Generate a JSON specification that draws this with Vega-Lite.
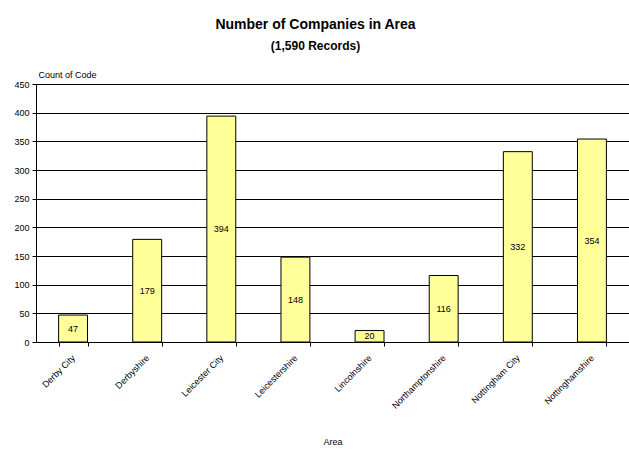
{
  "$schema": "https://vega.github.io/schema/vega-lite/v6.json",
  "autosize": "none",
  "width": 593,
  "height": 258,
  "padding": {"left": 36, "top": 84, "right": 0, "bottom": 112},
  "background": "white",
  "title": {
    "text": "Number of Companies in Area",
    "subtitle": "(1,590 Records)",
    "anchor": "middle",
    "frame": "group",
    "dx": -17,
    "offset": 18,
    "font": "Liberation Sans",
    "fontSize": 14,
    "fontWeight": "bold",
    "color": "black",
    "subtitleFont": "Liberation Sans",
    "subtitleFontSize": 12,
    "subtitleFontWeight": "bold",
    "subtitleColor": "black",
    "subtitlePadding": 9
  },
  "config": {
    "view": {"stroke": null},
    "axis": {
      "labelFont": "Liberation Sans",
      "labelFontSize": 9,
      "labelColor": "black",
      "titleFont": "Liberation Sans",
      "titleFontSize": 9,
      "titleFontWeight": "normal",
      "titleColor": "black",
      "domainColor": "black",
      "tickColor": "black",
      "gridColor": "black",
      "gridOpacity": 1
    }
  },
  "data": {
    "values": [
      {"Area": "Derby City", "count": 47},
      {"Area": "Derbyshire", "count": 179},
      {"Area": "Leicester City", "count": 394},
      {"Area": "Leicestershire", "count": 148},
      {"Area": "Lincolnshire", "count": 20},
      {"Area": "Northamptonshire", "count": 116},
      {"Area": "Nottingham City", "count": 332},
      {"Area": "Nottinghamshire", "count": 354}
    ]
  },
  "encoding": {
    "x": {
      "field": "Area",
      "type": "nominal",
      "sort": null,
      "scale": {"paddingInner": 0.61, "paddingOuter": 0.305},
      "axis": {
        "title": "Area",
        "labelAngle": -45,
        "labelBaseline": "middle",
        "labelPadding": 10,
        "tickBand": "extent",
        "tickSize": 4,
        "titleY": 99,
        "titleBaseline": "middle"
      }
    }
  },
  "layer": [
    {
      "mark": {"type": "bar", "color": "#FFFF99", "stroke": "black", "strokeWidth": 1},
      "encoding": {
        "y": {
          "field": "count",
          "type": "quantitative",
          "scale": {"domain": [0, 450], "nice": false},
          "axis": {
            "title": "Count of Code",
            "values": [0, 50, 100, 150, 200, 250, 300, 350, 400, 450],
            "grid": true,
            "tickSize": 4,
            "labelPadding": 3,
            "titleAngle": 0,
            "titleAlign": "left",
            "titleBaseline": "bottom",
            "titleX": 2,
            "titleY": -5
          }
        }
      }
    },
    {
      "mark": {"type": "text", "font": "Liberation Sans", "fontSize": 9, "color": "black", "baseline": "middle"},
      "encoding": {
        "y": {
          "field": "count",
          "type": "quantitative",
          "scale": {"domain": [0, 900], "nice": false},
          "axis": null
        },
        "text": {"field": "count", "type": "quantitative"}
      }
    }
  ],
  "resolve": {"scale": {"y": "independent"}}
}
